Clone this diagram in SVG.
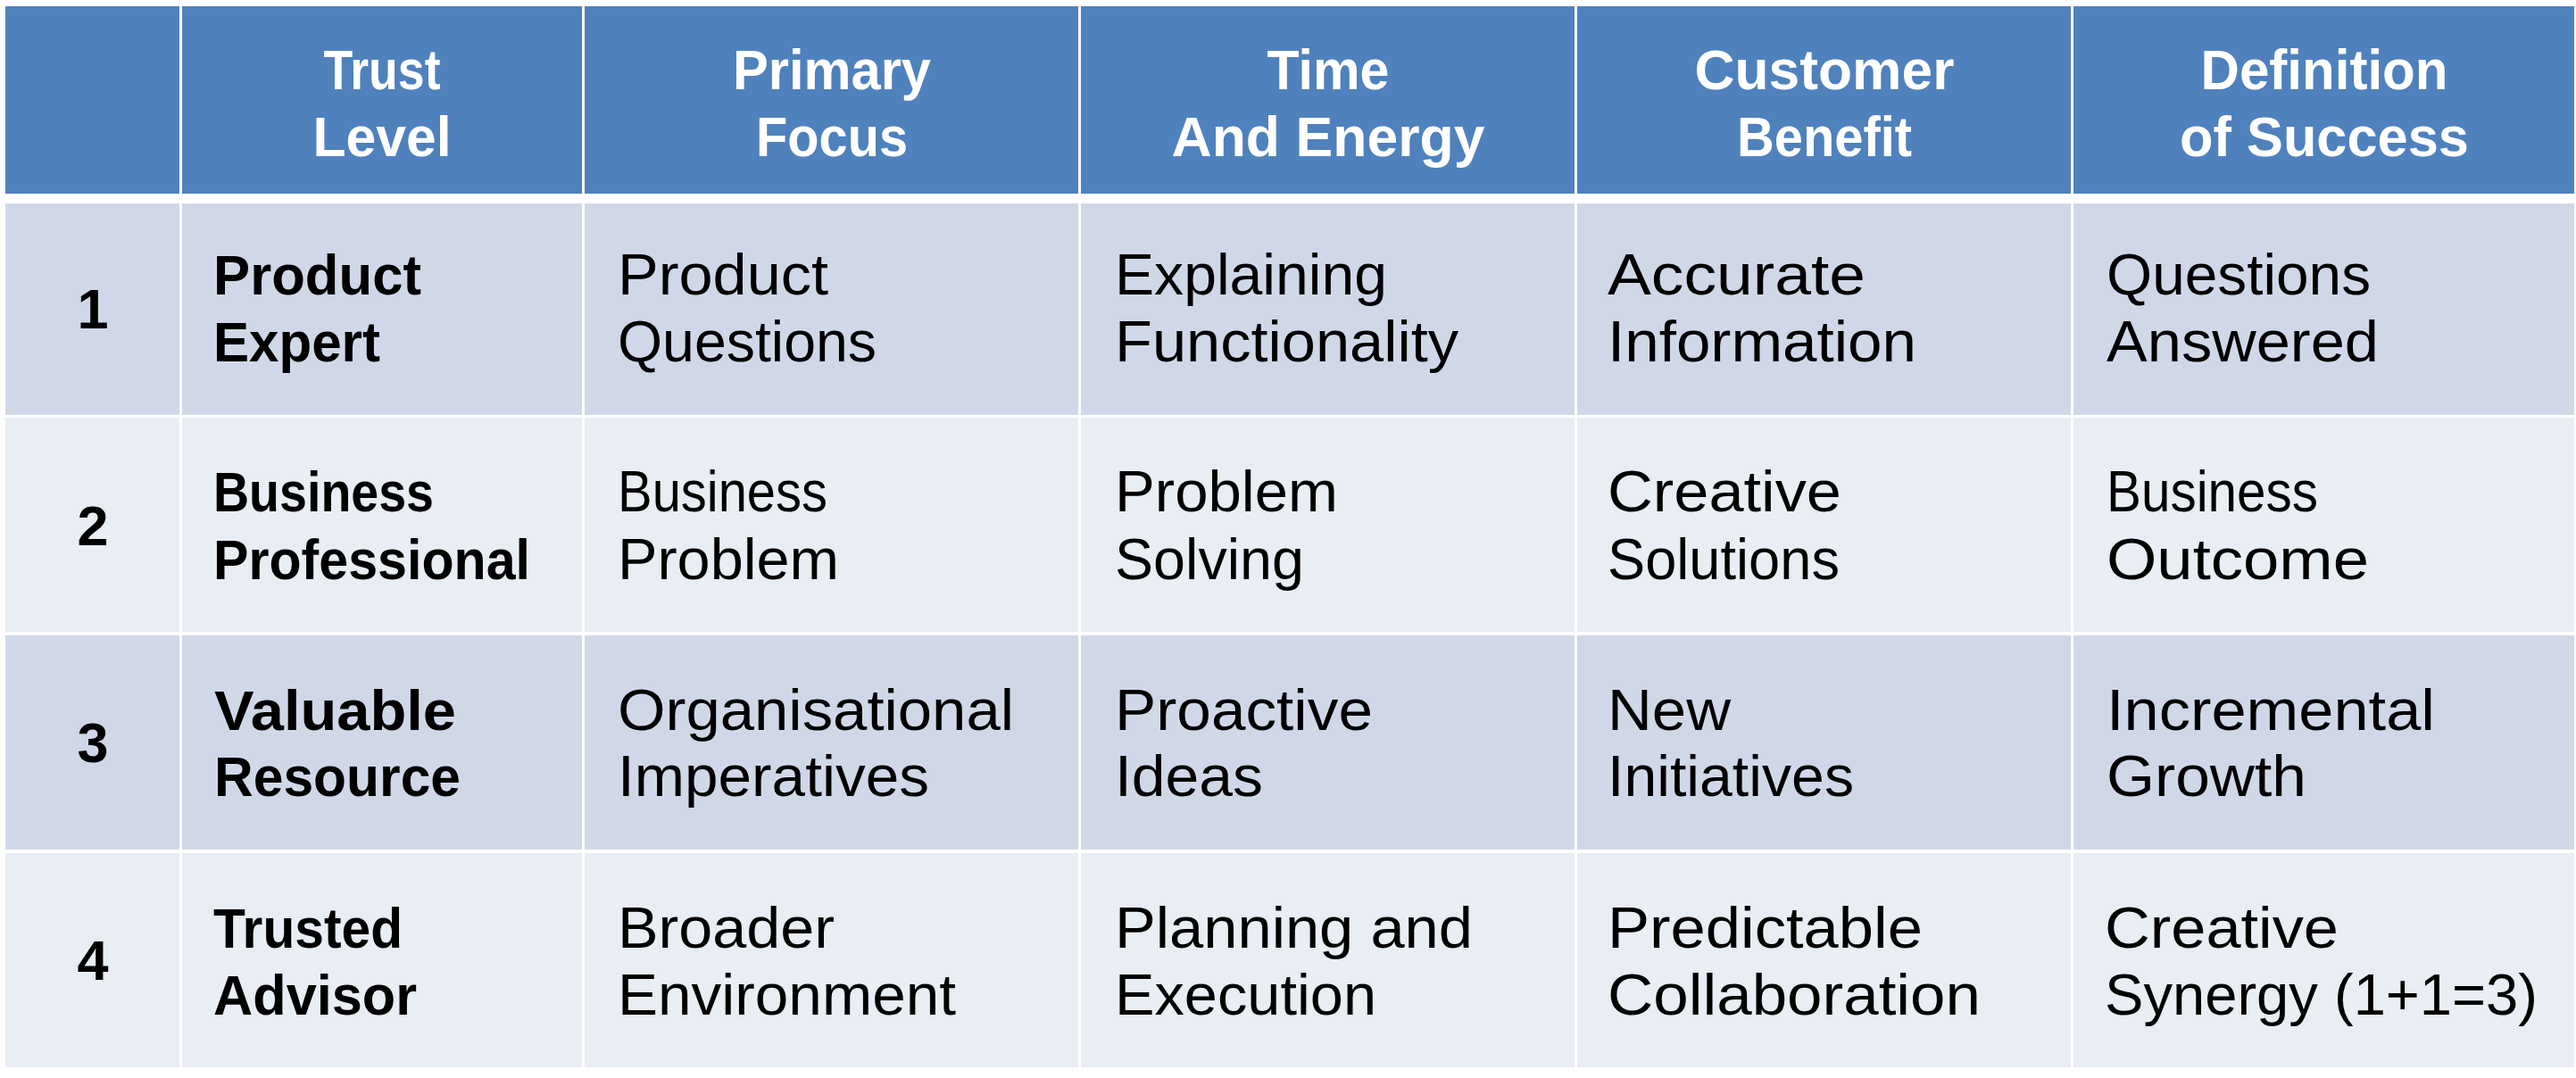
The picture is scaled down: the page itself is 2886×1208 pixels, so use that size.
<svg xmlns="http://www.w3.org/2000/svg" width="2886" height="1208" viewBox="0 0 2886 1208">
<style>
.hd{fill:#4F81BD}
.r1{fill:#D0D8E8}
.r2{fill:#E9EDF4}
.ht{font-family:"Liberation Sans",Arial,sans-serif;font-weight:bold;font-size:63px;fill:#FFFFFF;text-anchor:middle}
.b{font-family:"Liberation Sans",Arial,sans-serif;font-weight:bold;font-size:63px;fill:#000000}
.n{font-family:"Liberation Sans",Arial,sans-serif;font-weight:bold;font-size:63px;fill:#000000;text-anchor:middle}
.t{font-family:"Liberation Sans",Arial,sans-serif;font-size:64px;fill:#000000}
</style>
<rect x="0" y="0" width="2886" height="1208" fill="#FFFFFF"/>
<g id="header">
<rect class="hd" x="6" y="7" width="195" height="210"/>
<rect class="hd" x="204" y="7" width="448" height="210"/>
<rect class="hd" x="655" y="7" width="553" height="210"/>
<rect class="hd" x="1211" y="7" width="553" height="210"/>
<rect class="hd" x="1767" y="7" width="553" height="210"/>
<rect class="hd" x="2323" y="7" width="561" height="210"/>
<text class="ht" x="428" y="100" textLength="131" lengthAdjust="spacingAndGlyphs">Trust</text>
<text class="ht" x="428" y="175" textLength="155" lengthAdjust="spacingAndGlyphs">Level</text>
<text class="ht" x="932" y="100" textLength="222" lengthAdjust="spacingAndGlyphs">Primary</text>
<text class="ht" x="932" y="175" textLength="170" lengthAdjust="spacingAndGlyphs">Focus</text>
<text class="ht" x="1488" y="100" textLength="137" lengthAdjust="spacingAndGlyphs">Time</text>
<text class="ht" x="1488" y="175" textLength="351" lengthAdjust="spacingAndGlyphs">And Energy</text>
<text class="ht" x="2044" y="100" textLength="291" lengthAdjust="spacingAndGlyphs">Customer</text>
<text class="ht" x="2044" y="175" textLength="196" lengthAdjust="spacingAndGlyphs">Benefit</text>
<text class="ht" x="2604" y="100" textLength="277" lengthAdjust="spacingAndGlyphs">Definition</text>
<text class="ht" x="2604" y="175" textLength="324" lengthAdjust="spacingAndGlyphs">of Success</text>
</g>
<g id="row1">
<rect class="r1" x="6" y="228" width="195" height="237"/>
<rect class="r1" x="204" y="228" width="448" height="237"/>
<rect class="r1" x="655" y="228" width="553" height="237"/>
<rect class="r1" x="1211" y="228" width="553" height="237"/>
<rect class="r1" x="1767" y="228" width="553" height="237"/>
<rect class="r1" x="2323" y="228" width="561" height="237"/>
<text class="n" x="104" y="368">1</text>
<text class="b" x="239" y="330" textLength="233" lengthAdjust="spacingAndGlyphs">Product</text>
<text class="b" x="239" y="405" textLength="187" lengthAdjust="spacingAndGlyphs">Expert</text>
<text class="t" x="692" y="330" textLength="236" lengthAdjust="spacingAndGlyphs">Product</text>
<text class="t" x="692" y="405" textLength="290" lengthAdjust="spacingAndGlyphs">Questions</text>
<text class="t" x="1249" y="330" textLength="305" lengthAdjust="spacingAndGlyphs">Explaining</text>
<text class="t" x="1249" y="405" textLength="385" lengthAdjust="spacingAndGlyphs">Functionality</text>
<text class="t" x="1801" y="330" textLength="289" lengthAdjust="spacingAndGlyphs">Accurate</text>
<text class="t" x="1801" y="405" textLength="346" lengthAdjust="spacingAndGlyphs">Information</text>
<text class="t" x="2360" y="330" textLength="296" lengthAdjust="spacingAndGlyphs">Questions</text>
<text class="t" x="2360" y="405" textLength="305" lengthAdjust="spacingAndGlyphs">Answered</text>
</g>
<g id="row2">
<rect class="r2" x="6" y="468" width="195" height="240"/>
<rect class="r2" x="204" y="468" width="448" height="240"/>
<rect class="r2" x="655" y="468" width="553" height="240"/>
<rect class="r2" x="1211" y="468" width="553" height="240"/>
<rect class="r2" x="1767" y="468" width="553" height="240"/>
<rect class="r2" x="2323" y="468" width="561" height="240"/>
<text class="n" x="104" y="611">2</text>
<text class="b" x="239" y="573" textLength="247" lengthAdjust="spacingAndGlyphs">Business</text>
<text class="b" x="239" y="649" textLength="355" lengthAdjust="spacingAndGlyphs">Professional</text>
<text class="t" x="692" y="573" textLength="235" lengthAdjust="spacingAndGlyphs">Business</text>
<text class="t" x="692" y="649" textLength="248" lengthAdjust="spacingAndGlyphs">Problem</text>
<text class="t" x="1249" y="573" textLength="250" lengthAdjust="spacingAndGlyphs">Problem</text>
<text class="t" x="1249" y="649" textLength="212" lengthAdjust="spacingAndGlyphs">Solving</text>
<text class="t" x="1801" y="573" textLength="262" lengthAdjust="spacingAndGlyphs">Creative</text>
<text class="t" x="1801" y="649" textLength="260" lengthAdjust="spacingAndGlyphs">Solutions</text>
<text class="t" x="2360" y="573" textLength="237" lengthAdjust="spacingAndGlyphs">Business</text>
<text class="t" x="2360" y="649" textLength="294" lengthAdjust="spacingAndGlyphs">Outcome</text>
</g>
<g id="row3">
<rect class="r1" x="6" y="712" width="195" height="240"/>
<rect class="r1" x="204" y="712" width="448" height="240"/>
<rect class="r1" x="655" y="712" width="553" height="240"/>
<rect class="r1" x="1211" y="712" width="553" height="240"/>
<rect class="r1" x="1767" y="712" width="553" height="240"/>
<rect class="r1" x="2323" y="712" width="561" height="240"/>
<text class="n" x="104" y="854">3</text>
<text class="b" x="240" y="818" textLength="271" lengthAdjust="spacingAndGlyphs">Valuable</text>
<text class="b" x="240" y="892" textLength="276" lengthAdjust="spacingAndGlyphs">Resource</text>
<text class="t" x="692" y="818" textLength="444" lengthAdjust="spacingAndGlyphs">Organisational</text>
<text class="t" x="692" y="892" textLength="349" lengthAdjust="spacingAndGlyphs">Imperatives</text>
<text class="t" x="1249" y="818" textLength="289" lengthAdjust="spacingAndGlyphs">Proactive</text>
<text class="t" x="1249" y="892" textLength="166" lengthAdjust="spacingAndGlyphs">Ideas</text>
<text class="t" x="1801" y="818" textLength="138" lengthAdjust="spacingAndGlyphs">New</text>
<text class="t" x="1801" y="892" textLength="276" lengthAdjust="spacingAndGlyphs">Initiatives</text>
<text class="t" x="2360" y="818" textLength="368" lengthAdjust="spacingAndGlyphs">Incremental</text>
<text class="t" x="2360" y="892" textLength="224" lengthAdjust="spacingAndGlyphs">Growth</text>
</g>
<g id="row4">
<rect class="r2" x="6" y="956" width="195" height="240"/>
<rect class="r2" x="204" y="956" width="448" height="240"/>
<rect class="r2" x="655" y="956" width="553" height="240"/>
<rect class="r2" x="1211" y="956" width="553" height="240"/>
<rect class="r2" x="1767" y="956" width="553" height="240"/>
<rect class="r2" x="2323" y="956" width="561" height="240"/>
<text class="n" x="104" y="1098">4</text>
<text class="b" x="239" y="1062" textLength="212" lengthAdjust="spacingAndGlyphs">Trusted</text>
<text class="b" x="239" y="1137" textLength="228" lengthAdjust="spacingAndGlyphs">Advisor</text>
<text class="t" x="692" y="1062" textLength="243" lengthAdjust="spacingAndGlyphs">Broader</text>
<text class="t" x="692" y="1137" textLength="379" lengthAdjust="spacingAndGlyphs">Environment</text>
<text class="t" x="1249" y="1062" textLength="401" lengthAdjust="spacingAndGlyphs">Planning and</text>
<text class="t" x="1249" y="1137" textLength="293" lengthAdjust="spacingAndGlyphs">Execution</text>
<text class="t" x="1801" y="1062" textLength="353" lengthAdjust="spacingAndGlyphs">Predictable</text>
<text class="t" x="1801" y="1137" textLength="418" lengthAdjust="spacingAndGlyphs">Collaboration</text>
<text class="t" x="2358" y="1062" textLength="262" lengthAdjust="spacingAndGlyphs">Creative</text>
<text class="t" x="2358" y="1137" textLength="485" lengthAdjust="spacingAndGlyphs">Synergy (1+1=3)</text>
</g>
</svg>
